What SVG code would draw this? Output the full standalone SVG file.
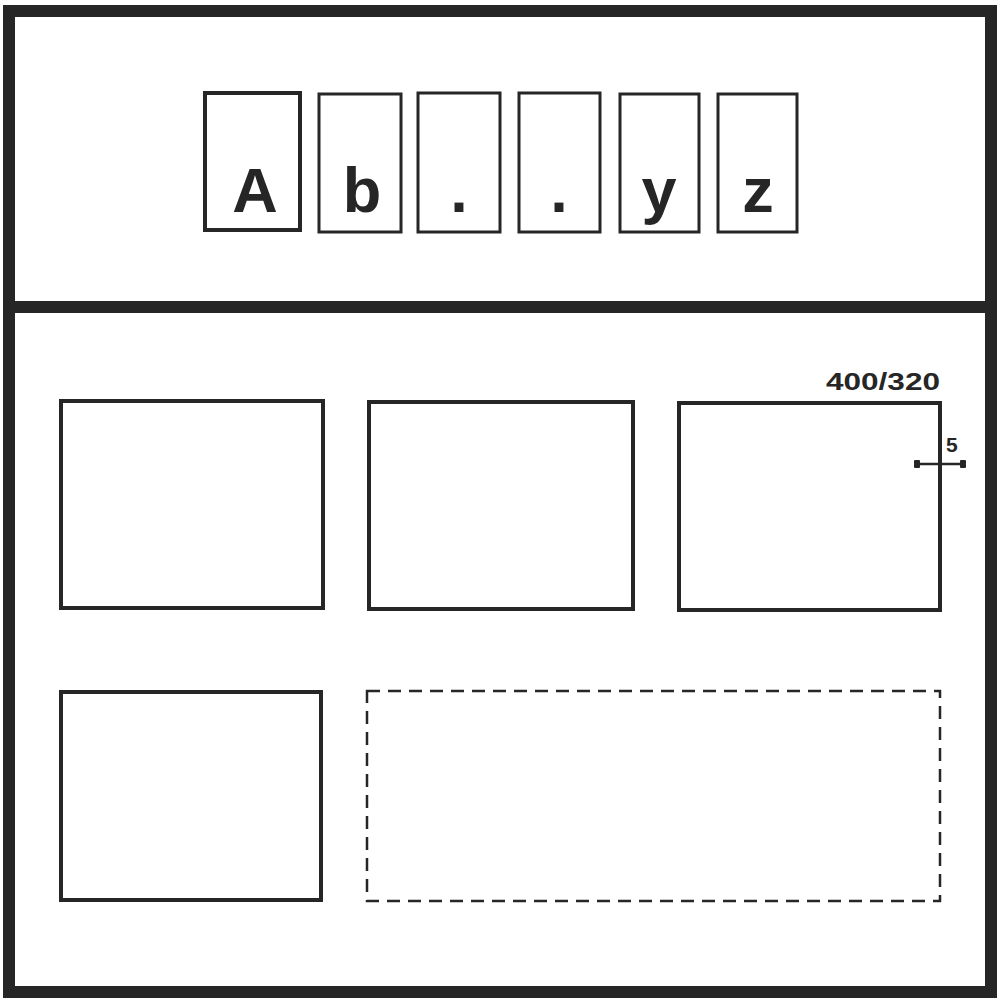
<svg xmlns="http://www.w3.org/2000/svg" width="1000" height="1000" viewBox="0 0 1000 1000">
<style>
.frame{fill:none;stroke:#262626;stroke-width:12}
.cell{fill:#fff;stroke:#262626;stroke-width:3}
.ch{font-family:"Liberation Sans",Arial,sans-serif;font-weight:bold;font-size:63px;fill:#262626;text-anchor:middle}
.box{fill:#fff;stroke:#262626;stroke-width:4}
.dash{fill:none;stroke:#262626;stroke-width:2.5;stroke-dasharray:13 8}
.dim{font-family:"Liberation Sans",Arial,sans-serif;font-weight:bold;fill:#262626}
</style>
<rect width="1000" height="1000" fill="#fff"/>
<g id="frame">
<rect class="frame" x="9" y="11" width="982" height="981"/>
<line class="frame" x1="9" y1="307" x2="991" y2="307"/>
</g>
<g id="title">
<g id="cell-A"><rect class="cell" x="205" y="93" width="95" height="137" style="stroke-width:4"/><text class="ch" x="255" y="212">A</text></g>
<g id="cell-b"><rect class="cell" x="319" y="94" width="82" height="138"/><text class="ch" x="362" y="212">b</text></g>
<g id="cell-dot1"><rect class="cell" x="418" y="93" width="82" height="139"/><text class="ch" x="459" y="212">.</text></g>
<g id="cell-dot2"><rect class="cell" x="519" y="93" width="81" height="139"/><text class="ch" x="559" y="212">.</text></g>
<g id="cell-y"><rect class="cell" x="620" y="94" width="79" height="138"/><text class="ch" x="659" y="212">y</text></g>
<g id="cell-z"><rect class="cell" x="718" y="94" width="79" height="138"/><text class="ch" x="758" y="212">z</text></g>
</g>
<g id="box1"><rect class="box" x="61" y="401" width="262" height="207"/></g>
<g id="box2"><rect class="box" x="369" y="402" width="264" height="207"/></g>
<g id="box3"><rect class="box" x="679" y="403" width="261" height="207"/>
<text class="dim" x="826" y="390" font-size="24" textLength="114" lengthAdjust="spacingAndGlyphs">400/320</text>
<text class="dim" x="946" y="452" font-size="21">5</text>
<line x1="916" y1="464" x2="964" y2="464" stroke="#262626" stroke-width="2.5"/>
<rect x="914" y="460" width="6" height="8" rx="1" fill="#262626"/>
<rect x="960" y="460" width="6" height="8" rx="1" fill="#262626"/>
</g>
<g id="box4"><rect class="box" x="61" y="692" width="260" height="208"/></g>
<g id="box5"><rect class="dash" x="367" y="691" width="573" height="210"/></g>
<g id="connectors"></g>
</svg>
